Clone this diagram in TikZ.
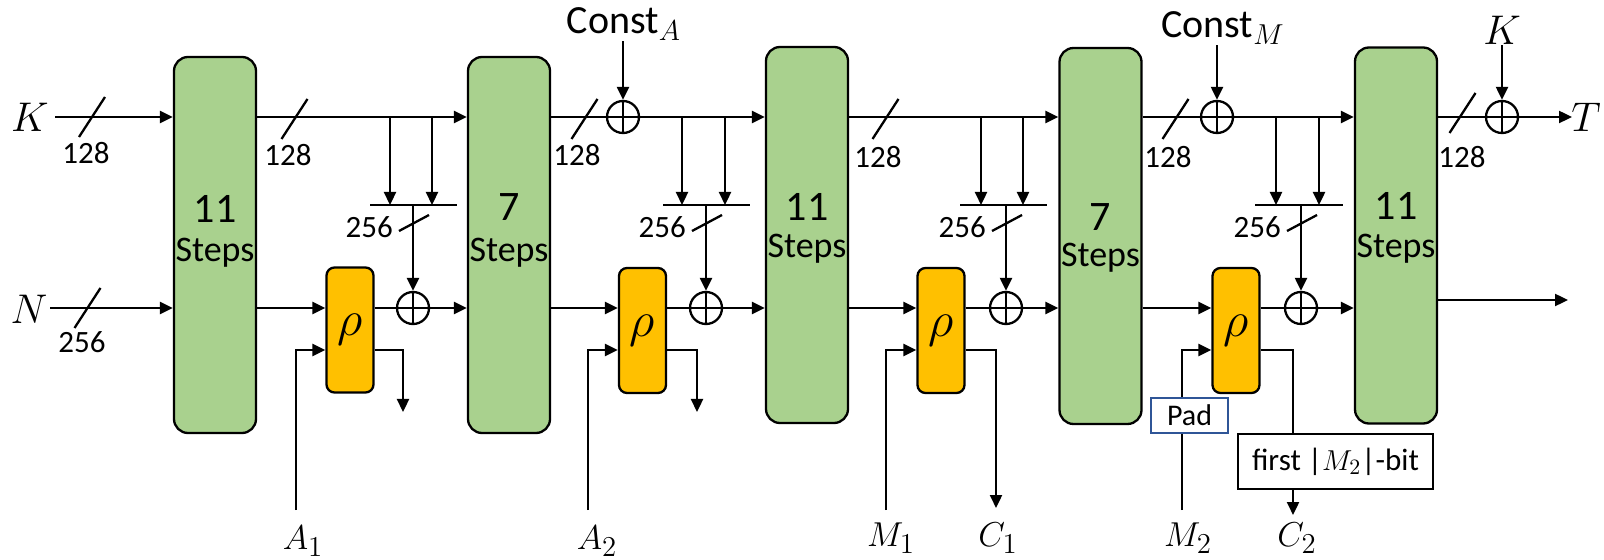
\documentclass[tikz,border=0pt]{standalone}
\usepackage{fontspec}
\setmainfont{Carlito}
\usetikzlibrary{arrows.meta}
\definecolor{boxgreen}{HTML}{A9D18E}
\definecolor{rhoorange}{HTML}{FFC000}
\definecolor{padblue}{HTML}{2F5597}
\begin{document}
\begin{tikzpicture}[x=0.5pt,y=-0.5pt,line width=1.15pt,
  >={Triangle[length=6.5pt,width=6pt]},
  stepsbox/.style={draw, fill=boxgreen, rounded corners=7pt, minimum width=41pt, minimum height=188pt, inner sep=0},
  rhobox/.style={draw, fill=rhoorange, rounded corners=4pt, minimum width=23.5pt, minimum height=62.5pt, inner sep=0, font=\fontsize{25}{27}\selectfont},
  xorc/.style={draw, circle, minimum size=16pt, inner sep=0, path picture={\draw (path picture bounding box.north) -- (path picture bounding box.south) (path picture bounding box.west) -- (path picture bounding box.east);}},
  numlbl/.style={inner sep=0, font=\fontsize{21}{23}\selectfont},
  steplbl/.style={inner sep=0, font=\fontsize{18}{20}\selectfont},
  widthlbl/.style={inner sep=0, font=\fontsize{15.5}{17}\selectfont},
  biglbl/.style={inner sep=0, font=\fontsize{22}{24}\selectfont},
  iolbl/.style={inner sep=0, font=\fontsize{19}{21}\selectfont},
  constlbl/.style={inner sep=0, font=\fontsize{20}{22}\selectfont},
  busmark/.pic={\draw (-12.5,20) -- (13.5,-20);},
  vbusmark/.pic={\draw (-14,8) -- (16,-8);}
]
\useasboundingbox (0,0) rectangle (1604,560);
\clip (0,0) rectangle (1604,560);

% reference levels
\coordinate (top) at (0,117);
\coordinate (bot) at (0,308);
\coordinate (low) at (0,350);

% Steps boxes
\node[stepsbox] (b1) at (215,245) {};
\node[numlbl] (b1n) at (215,209) {11};
\node[steplbl] (b1s) at (215,253) {Steps};
\node[stepsbox] (b2) at (509,245) {};
\node[numlbl] (b2n) at (509,207) {7};
\node[steplbl] (b2s) at (509,253) {Steps};
\node[stepsbox] (b3) at (807,235) {};
\node[numlbl] (b3n) at (807,207) {11};
\node[steplbl] (b3s) at (807,249) {Steps};
\node[stepsbox] (b4) at (1100.5,236) {};
\node[numlbl] (b4n) at (1100.5,217) {7};
\node[steplbl] (b4s) at (1100.5,258) {Steps};
\node[stepsbox] (b5) at (1396,235.5) {};
\node[numlbl] (b5n) at (1396,206) {11};
\node[steplbl] (b5s) at (1396,249) {Steps};

% rho boxes
\node[rhobox] (r1) at (350,330) {$\rho$};
\node[rhobox] (r2) at (642.5,330.5) {$\rho$};
\node[rhobox] (r3) at (941,330.5) {$\rho$};
\node[rhobox] (r4) at (1236,330.5) {$\rho$};

% xor nodes
\node[xorc] (x1) at (413,308) {};
\node[xorc] (x2) at (706,308) {};
\node[xorc] (x3) at (1006,308) {};
\node[xorc] (x4) at (1301,308) {};
\node[xorc] (xA) at (623,117) {};
\node[xorc] (xM) at (1217,117) {};
\node[xorc] (xK) at (1502,117) {};

% labels
\node[biglbl] (K) at (30,117) {$K$};
\node[biglbl] (N) at (29,309) {$N$};
\node[biglbl, anchor=east] (T) at (1602,117) {$T$};
\node[biglbl] (K2) at (1502,30) {$K$};
\node[constlbl] (cA) at (624,24) {Const$_{A}$};
\node[constlbl] (cM) at (1223,28) {Const$_{M}$};

% top line
\coordinate (kin) at (55,117);
\draw[->] (kin) -- (b1.west |- top);
\draw[->] (b1.east |- top) -- (b2.west |- top);
\draw (b2.east |- top) -- (xA);
\draw[->] (xA) -- (b3.west |- top);
\draw[->] (b3.east |- top) -- (b4.west |- top);
\draw (b4.east |- top) -- (xM);
\draw[->] (xM) -- (b5.west |- top);
\coordinate (tend) at (1572,117);
\draw[->] (b5.east |- top) -- (xK) -- (tend);
\draw[->] (cA.south -| xA) -- (xA.north);
\draw[->] (cM.south -| xM) -- (xM.north);
\draw[->] (K2.south -| xK) -- (xK.north);

% bottom line
\coordinate (nin) at (50,308);
\draw[->] (nin) -- (b1.west |- bot);
\draw[->] (b1.east |- bot) -- (r1.west |- bot);
\draw (r1.east |- bot) -- (x1);
\draw[->] (x1) -- (b2.west |- bot);
\draw[->] (b2.east |- bot) -- (r2.west |- bot);
\draw (r2.east |- bot) -- (x2);
\draw[->] (x2) -- (b3.west |- bot);
\draw[->] (b3.east |- bot) -- (r3.west |- bot);
\draw (r3.east |- bot) -- (x3);
\draw[->] (x3) -- (b4.west |- bot);
\draw[->] (b4.east |- bot) -- (r4.west |- bot);
\draw (r4.east |- bot) -- (x4);
\draw[->] (x4) -- (b5.west |- bot);
\coordinate (nend) at (1568,300);
\draw[->] (b5.east |- nend) -- (nend);

% bars and branches
\foreach \i/\xl/\xa/\xb/\xr/\xc in {1/370/390/432/457/413, 2/663/682/725/750/706, 3/960/981/1023/1047/1006, 4/1255/1276/1319/1343/1301}{
  \coordinate (barL\i) at (\xl,205);
  \coordinate (barR\i) at (\xr,205);
  \coordinate (brA\i) at (\xa,117);
  \coordinate (brB\i) at (\xb,117);
  \coordinate (barC\i) at (\xc,205);
  \draw (barL\i) -- (barR\i);
  \draw[->] (brA\i) -- (brA\i |- barL\i);
  \draw[->] (brB\i) -- (brB\i |- barL\i);
  \draw[->] (barC\i) -- (x\i.north);
  \pic at (\xc,223) {vbusmark};
  \node[widthlbl, anchor=east] (w256\i) at (\xc-19,227) {256};
}

% bus width marks
\pic at (91.5,117) {busmark};
\node[widthlbl] (w0) at (86,153) {128};
\pic at (87,308) {busmark};
\node[widthlbl] (wn) at (82,342) {256};
\pic at (294,119) {busmark};
\node[widthlbl] (w1) at (288,155) {128};
\pic at (584,119) {busmark};
\node[widthlbl] (w2) at (577,155) {128};
\pic at (885,119) {busmark};
\node[widthlbl] (w3) at (878,157) {128};
\pic at (1175,119) {busmark};
\node[widthlbl] (w4) at (1168,157) {128};
\pic at (1462,113) {busmark};
\node[widthlbl] (w5) at (1462,157) {128};

% lower inputs / outputs
\coordinate (a1e) at (296,510);
\coordinate (a2e) at (588,510);
\coordinate (m1e) at (886,510);
\coordinate (m2e) at (1182,510);
\draw[->] (a1e) |- (r1.west |- low);
\draw[->] (a2e) |- (r2.west |- low);
\draw[->] (m1e) |- (r3.west |- low);
\coordinate (o1) at (403,412);
\coordinate (o2) at (697,412);
\coordinate (c1e) at (996,508);
\draw[->] (r1.east |- low) -| (o1);
\draw[->] (r2.east |- low) -| (o2);
\draw[->] (r3.east |- low) -| (c1e);

% pad and truncation
\node[draw=padblue, fill=white, line width=1pt, minimum width=38.5pt, minimum height=17.5pt, inner sep=0, font=\fontsize{15}{17}\selectfont] (pad) at (1189.5,415.5) {Pad};
\draw (m2e) -- (pad.south -| m2e);
\draw[->] (pad.north -| m2e) |- (r4.west |- low);
\node[draw, fill=white, minimum width=97.5pt, minimum height=27.5pt, inner sep=0, font=\fontsize{15.5}{17}\selectfont] (fb) at (1335.5,461.5) {first |$M_2$|-bit};
\coordinate (fx) at (1293,0);
\coordinate (c2e) at (1293,515);
\draw (r4.east |- low) -| (fb.north -| fx);
\draw[->] (fb.south -| fx) -- (c2e);

% bottom labels
\node[iolbl] (A1) at (303,541) {$A_1$};
\node[iolbl] (A2) at (597,541) {$A_2$};
\node[iolbl] (M1) at (891,538) {$M_1$};
\node[iolbl] (C1) at (998,538) {$C_1$};
\node[iolbl] (M2) at (1188,538) {$M_2$};
\node[iolbl] (C2) at (1297,538) {$C_2$};
\end{tikzpicture}
\end{document}
